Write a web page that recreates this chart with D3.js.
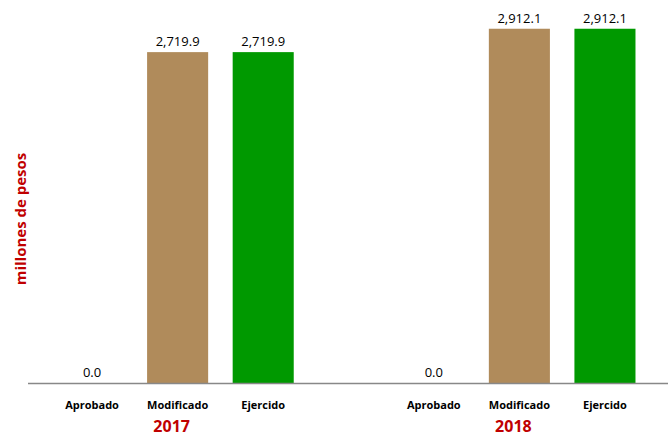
<!DOCTYPE html>
<html><head><meta charset="utf-8">
<script src="https://cdn.jsdelivr.net/npm/d3@7"></script>
<style>body{margin:0;background:#fff;}svg{display:block;}</style>
</head><body>
<svg id="c" width="668" height="437"></svg>
<script>
const years = ["2017", "2018"];
const categories = ["Aprobado", "Modificado", "Ejercido"];
const values2017 = [0.0, 2719.9, 2719.9];
const values2018 = [0.0, 2912.1, 2912.1];
const colors = ["#B08B5B", "#B08B5B", "#009900"];
const yTitle = "millones de pesos";

const data = years.map((y, i) => ({year: y, vals: [values2017, values2018][i]}));
const svg = d3.select("#c");
const baseY = 383;
const y = d3.scaleLinear().domain([0, 3000]).range([baseY, baseY - 3000 * 0.12165]);
const x0 = d3.scaleBand().domain(years).range([6.75, 690.25]);
const x1 = d3.scaleBand().domain(categories).range([0, x0.bandwidth()]).paddingInner(0.2865).paddingOuter(0.64);

const font = "'Open Sans', 'Liberation Sans', sans-serif";

const g = svg.selectAll("g.grp").data(data).join("g").attr("class", "grp")
  .attr("transform", d => `translate(${x0(d.year)},0)`);

g.selectAll("rect").data(d => d.vals.map((v, i) => ({cat: categories[i], v, i})))
  .join("rect")
  .attr("x", d => x1(d.cat)).attr("width", x1.bandwidth())
  .attr("y", d => y(d.v)).attr("height", d => y(0) - y(d.v))
  .attr("fill", d => colors[d.i]);

g.selectAll("text.val").data(d => d.vals.map((v, i) => ({cat: categories[i], v})))
  .join("text").attr("class", "val")
  .attr("x", d => x1(d.cat) + x1.bandwidth() / 2)
  .attr("y", d => y(d.v) - 6)
  .attr("text-anchor", "middle")
  .attr("font-family", font).attr("font-size", 13).attr("fill", "#000")
  .text(d => d3.format(",.1f")(d.v));

g.selectAll("text.cat").data(categories).join("text").attr("class", "cat")
  .attr("x", d => x1(d) + x1.bandwidth() / 2)
  .attr("y", 409)
  .attr("text-anchor", "middle")
  .attr("font-family", font).attr("font-size", 11).attr("font-weight", "bold").attr("fill", "#000")
  .text(d => d);

g.append("text")
  .attr("x", x0.bandwidth() / 2 - 6)
  .attr("y", 432)
  .attr("text-anchor", "middle")
  .attr("font-family", font).attr("font-size", 16).attr("font-weight", "bold").attr("fill", "#C00000")
  .text(d => d.year);

svg.append("line").attr("x1", 28).attr("x2", 668).attr("y1", baseY + 0.5).attr("y2", baseY + 0.5)
  .attr("stroke", "#888").attr("stroke-width", 1.5);

svg.append("text")
  .attr("transform", "translate(26,219) rotate(-90)")
  .attr("text-anchor", "middle")
  .attr("font-family", font).attr("font-size", 15).attr("font-weight", "bold").attr("fill", "#C00000")
  .text(yTitle);
</script>
</body></html>
